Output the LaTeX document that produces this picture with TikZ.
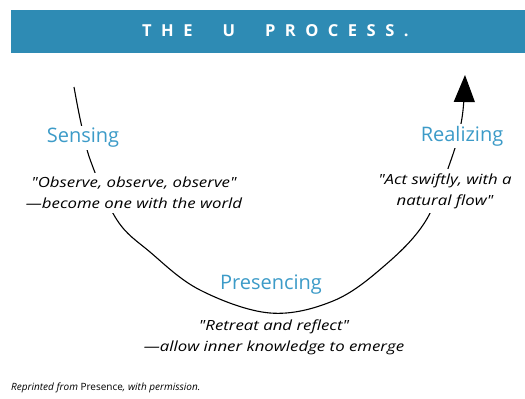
\documentclass[tikz,border=0pt]{standalone}
\usepackage{fontspec}
\setmainfont{Open Sans}
\newfontfamily\quotefont[FakeStretch=1.2, Ligatures=TeXOff]{Open Sans}
\usetikzlibrary{arrows.meta}
\definecolor{banner}{HTML}{2E8BB4}
\definecolor{stage}{HTML}{3C9BC8}
% spacing inside the letter-spaced heading
\newcommand\lsp{\hspace{9.5pt}}
\newcommand\wsp{\hspace{30pt}}
\begin{document}
\begin{tikzpicture}[x=1pt,y=-1pt,
  stagelabel/.style={text=stage, font=\fontsize{20}{22}\selectfont, fill=white, inner sep=2pt},
  quote/.style={font=\quotefont\itshape\fontsize{14}{21}\selectfont, align=center, fill=white,
    inner xsep=1.5pt, inner ysep=4.5pt},
  ucurve/.style={line width=1.1pt, -{Triangle[length=27pt,width=21pt]}},
  heading/.style={text=white, font=\bfseries\fontsize{16.5}{18}\selectfont, inner sep=0pt}]
\useasboundingbox (0,0) rectangle (525,399);

% heading band
\node[fill=banner, minimum width=514pt, minimum height=43pt, anchor=north west, inner sep=0pt] (band) at (11,10) {};
\node[heading, anchor=west] (title) at (142,31)
  {T\lsp H\lsp E\wsp U\wsp P\lsp R\lsp O\lsp C\lsp E\lsp S\lsp S\lsp .};

% the U curve, ending in an upward arrow
\draw[ucurve] plot[smooth, tension=0.6] coordinates
  {(74,87) (81,123) (91,162) (117,220) (150,252) (200,290) (270,313)
   (333,301) (383,267) (425,222) (451,160) (462,118) (465,75)};

% stages
\node[stagelabel] (sensing) at (83,138) {Sensing};
\node[stagelabel] (realizing) at (462,136) {Realizing};
\node[stagelabel] (presencing) at (271,285) {Presencing};

% sayings
\node[quote] (sensq) at (134,193) {"Observe, observe, observe"\\—become one with the world};
\node[quote] (realq) at (445,191) {"Act swiftly, with a\\natural flow"};
\node[quote] (presq) at (274,337) {"Retreat and reflect"\\—allow inner knowledge to emerge};

% source line
\node[anchor=west, font=\itshape\fontsize{10}{11}\selectfont, inner sep=0pt] (credit) at (11,388)
  {Reprinted from {\upshape Presence}, with permission.};
\end{tikzpicture}
\end{document}
